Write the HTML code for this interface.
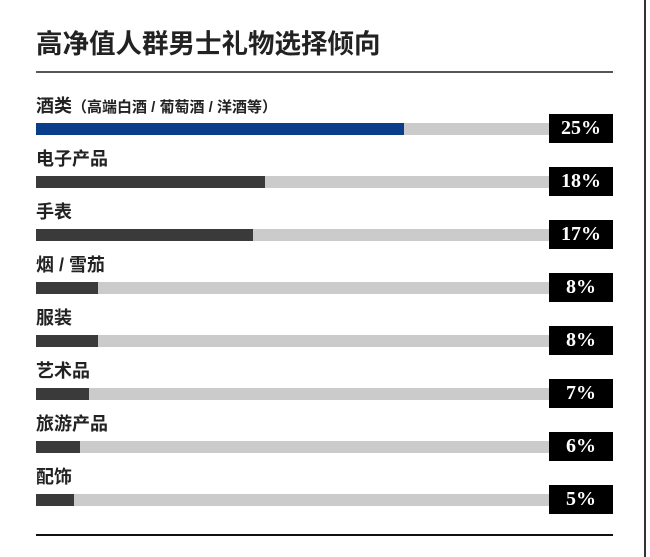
<!DOCTYPE html>
<html><head><meta charset="utf-8"><style>
body{margin:0;width:650px;height:557px;background:#fff;position:relative;overflow:hidden;font-family:"Liberation Sans","Noto Sans CJK SC",sans-serif}
.a{position:absolute}
.t{left:36px;top:22px;font-size:26.5px;font-weight:bold;color:#222}
.l{left:36px;font-size:18px;color:#222;font-weight:bold;line-height:22px}
.bg{left:36px;width:513px;height:12px;background:#cbcbcb}
.f{left:36px;height:12px;background:#3a3a3a}
.v{left:549px;width:64px;height:29px;background:#000;color:#fff;font-family:"Liberation Serif",serif;font-weight:bold;font-size:20px;line-height:29px;text-align:center}
</style></head><body>
<div class="a t">高净值人群男士礼物选择倾向</div>
<div class="a" style="left:36px;top:71px;width:577px;height:2px;background:#555"></div>
<div class="a" style="left:36px;top:534px;width:577px;height:2px;background:#111"></div>
<div class="a" style="left:644px;top:0;width:2px;height:557px;background:#333"></div>

<div class="a l" style="top:95px">酒类<span style="font-size:15px">（高端白酒 / 葡萄酒 / 洋酒等）</span></div>
<div class="a bg" style="top:123px"></div><div class="a f" style="top:123px;width:368px;background:#0a3d8a"></div><div class="a v" style="top:114px">25%</div>

<div class="a l" style="top:148px">电子产品</div>
<div class="a bg" style="top:176px"></div><div class="a f" style="top:176px;width:229px"></div><div class="a v" style="top:167px">18%</div>

<div class="a l" style="top:201px">手表</div>
<div class="a bg" style="top:229px"></div><div class="a f" style="top:229px;width:217px"></div><div class="a v" style="top:220px">17%</div>

<div class="a l" style="top:254px">烟 / 雪茄</div>
<div class="a bg" style="top:282px"></div><div class="a f" style="top:282px;width:62px"></div><div class="a v" style="top:273px">8%</div>

<div class="a l" style="top:307px">服装</div>
<div class="a bg" style="top:335px"></div><div class="a f" style="top:335px;width:62px"></div><div class="a v" style="top:326px">8%</div>

<div class="a l" style="top:360px">艺术品</div>
<div class="a bg" style="top:388px"></div><div class="a f" style="top:388px;width:53px"></div><div class="a v" style="top:379px">7%</div>

<div class="a l" style="top:413px">旅游产品</div>
<div class="a bg" style="top:441px"></div><div class="a f" style="top:441px;width:44px"></div><div class="a v" style="top:432px">6%</div>

<div class="a l" style="top:466px">配饰</div>
<div class="a bg" style="top:494px"></div><div class="a f" style="top:494px;width:38px"></div><div class="a v" style="top:485px">5%</div>
</body></html>
